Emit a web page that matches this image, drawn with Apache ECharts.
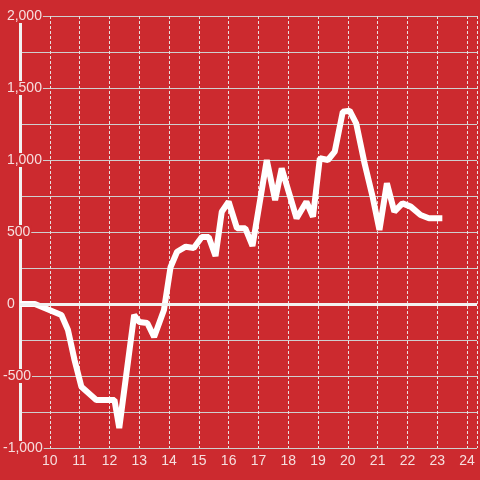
<!DOCTYPE html>
<html>
<head>
<meta charset="utf-8">
<script src="https://cdn.jsdelivr.net/npm/echarts@6/dist/echarts.min.js"></script>
<style>
html,body{margin:0;padding:0;background:#cc2a2f;}
#c{width:480px;height:480px;}
</style>
</head>
<body>
<div id="c"></div>
<script>
var xValues = [9.0, 9.5, 10.39, 10.61, 10.83, 11.06, 11.56, 12.17, 12.33, 12.83, 13.0, 13.27, 13.5, 13.83, 14.05, 14.27, 14.56, 14.83, 15.1, 15.33, 15.56, 15.77, 16.0, 16.28, 16.56, 16.8, 17.28, 17.56, 17.78, 18.28, 18.61, 18.83, 19.06, 19.33, 19.56, 19.83, 20.06, 20.28, 20.56, 20.83, 21.06, 21.31, 21.56, 21.83, 22.11, 22.44, 22.72, 23.17];
var yValues = [0, 0, -76, -181, -389, -574, -667, -667, -861, -76, -125, -132, -229, -42, 255, 363, 398, 389, 465, 465, 333, 641, 710, 526, 526, 403, 1000, 722, 942, 595, 710, 606, 1012, 1000, 1058, 1335, 1342, 1255, 977, 745, 514, 838, 641, 699, 676, 618, 595, 595];
var xTicks = [10, 11, 12, 13, 14, 15, 16, 17, 18, 19, 20, 21, 22, 23, 24];
var yTicks = [-1000, -500, 0, 500, 1000, 1500, 2000];

var bg = '#cc2a2f';
var data = xValues.map(function (x, i) { return [x, yValues[i]]; });
function commas(v) {
  var s = String(Math.abs(v)).replace(/\B(?=(\d{3})+(?!\d))/g, ',');
  return (v < 0 ? '-' : ' ') + s;
}
var chart = echarts.init(document.getElementById('c'), null, {renderer: 'canvas'});
chart.setOption({
  backgroundColor: bg,
  animation: false,
  grid: {left: 20, right: 0, top: 16, bottom: 32, containLabel: false},
  xAxis: {
    type: 'value', min: 9, max: 24.333, interval: 1,
    axisLine: {show: false}, axisTick: {show: false},
    axisLabel: {
      color: '#f6dede', fontSize: 14, fontFamily: 'Liberation Sans, Arial, sans-serif', margin: 6,
      formatter: function (v) { return xTicks.indexOf(v) >= 0 ? String(v) : ''; }
    },
    splitLine: {show: true, lineStyle: {color: '#e8e0e0', type: [3, 2], width: 1}}
  },
  yAxis: {
    type: 'value', min: -1000, max: 2000, interval: 250,
    axisLine: {show: true, onZero: false, lineStyle: {color: '#f2f2f2', width: 3}},
    axisTick: {show: false},
    axisLabel: {
      color: '#f6dede', fontSize: 14, fontFamily: 'Liberation Sans, Arial, sans-serif',
      align: 'left', margin: 17, backgroundColor: bg, padding: [0, 1, 0, 0],
      formatter: function (v) { return yTicks.indexOf(v) >= 0 ? commas(v) : ''; }
    },
    splitLine: {show: true, lineStyle: {color: '#cfcfcf', width: 1}}
  },
  series: [{
    type: 'line', data: data, symbol: 'none', silent: true,
    lineStyle: {color: '#ffffff', width: 6, join: 'bevel', cap: 'butt'},
    markLine: {
      silent: true, symbol: 'none', label: {show: false},
      lineStyle: {color: '#f2f2f2', width: 3, type: 'solid'},
      data: [{yAxis: 0}]
    },
    z: 3
  }]
});
</script>
</body>
</html>
